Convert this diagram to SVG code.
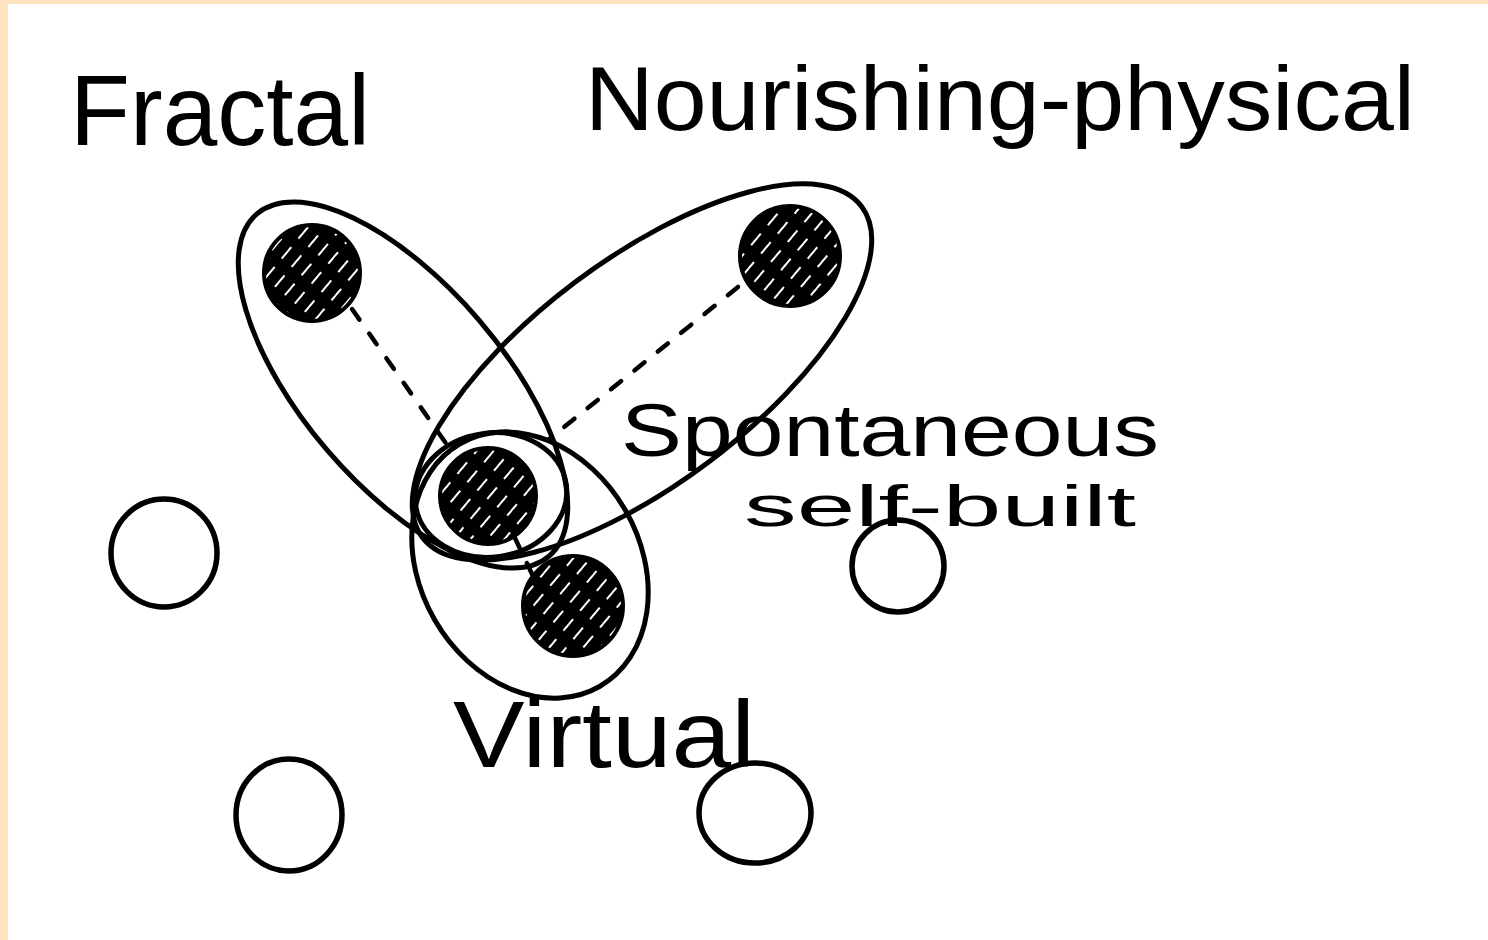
<svg xmlns="http://www.w3.org/2000/svg" width="1488" height="940" viewBox="0 0 1488 940">
  <style>
    .loop { fill: none; stroke: #000; stroke-width: 5; stroke-linecap: round; }
    .ring { fill: none; stroke: #000; stroke-width: 5.5; }
    .dot { fill: url(#hatch); stroke: #000; stroke-width: 4; }
    .dash { fill: none; stroke: #000; stroke-width: 4.5; stroke-dasharray: 13 17; stroke-linecap: round; }
    .lbl { font-family: "Liberation Sans", Arial, sans-serif; fill: #000; }
  </style>
  <defs>
    <pattern id="hatch" width="13" height="26" patternUnits="userSpaceOnUse" patternTransform="rotate(40)">
      <rect width="13" height="26" fill="#000"/>
      <line x1="5" y1="2" x2="5" y2="17" stroke="#fff" stroke-width="2"/>
    </pattern>
  </defs>

  <rect x="0" y="0" width="1488" height="940" fill="#FFE2BE"/>
  <rect x="8" y="4" width="1480" height="936" fill="#fff"/>

  <g id="connectors">
    <line class="dash" x1="352" y1="309" x2="452" y2="452"/>
    <line class="dash" x1="738" y1="287" x2="548" y2="440"/>
    <line class="dash" x1="514" y1="536" x2="532" y2="574"/>
  </g>

  <g id="group-fractal">
    <ellipse class="loop" cx="403" cy="385" rx="225" ry="100" transform="rotate(49.5 403 385)"/>
  </g>
  <g id="group-nourishing">
    <ellipse class="loop" cx="642" cy="372" rx="275" ry="112" transform="rotate(-37 642 372)"/>
  </g>
  <g id="group-virtual">
    <ellipse class="loop" cx="530" cy="565" rx="140" ry="110" transform="rotate(60 530 565)"/>
  </g>
  <g id="group-spontaneous">
    <ellipse class="loop" cx="491" cy="495" rx="76" ry="62" transform="rotate(-8 491 495)"/>
  </g>

  <g id="dot-fractal"><circle class="dot" cx="312" cy="273" r="48"/></g>
  <g id="dot-nourishing"><circle class="dot" cx="790" cy="256" r="50"/></g>
  <g id="dot-spontaneous"><circle class="dot" cx="488" cy="496" r="48"/></g>
  <g id="dot-virtual"><circle class="dot" cx="573" cy="606" r="50"/></g>

  <g id="circle-1"><ellipse class="ring" cx="164" cy="553" rx="53" ry="54"/></g>
  <g id="circle-2"><ellipse class="ring" cx="289" cy="815" rx="53" ry="56"/></g>
  <g id="circle-3"><ellipse class="ring" cx="898" cy="566" rx="46" ry="46"/></g>
  <g id="circle-4"><ellipse class="ring" cx="755" cy="813" rx="56" ry="50"/></g>

  <g id="label-fractal"><text class="lbl" x="70" y="145" font-size="100" textLength="300" lengthAdjust="spacingAndGlyphs">Fractal</text></g>
  <g id="label-nourishing"><text class="lbl" x="585" y="130" font-size="90" textLength="830" lengthAdjust="spacingAndGlyphs">Nourishing-physical</text></g>
  <g id="label-spontaneous">
    <text class="lbl" x="621" y="456" font-size="74" textLength="538" lengthAdjust="spacingAndGlyphs">Spontaneous</text>
    <text class="lbl" x="744" y="526" font-size="58" textLength="392" lengthAdjust="spacingAndGlyphs">self-built</text>
  </g>
  <g id="label-virtual"><text class="lbl" x="453" y="767" font-size="95" textLength="302" lengthAdjust="spacingAndGlyphs">Virtual</text></g>
</svg>
